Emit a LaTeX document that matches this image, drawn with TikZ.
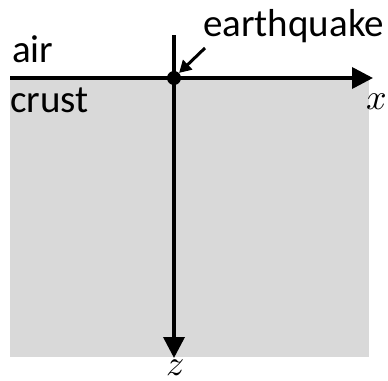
\documentclass[tikz,border=0pt]{standalone}
\usepackage{fontspec}
\usepackage{unicode-math}
\setmainfont{Carlito}
\setmathfont{Latin Modern Math}
\usetikzlibrary{arrows.meta}

\begin{document}
\begin{tikzpicture}[x=1pt, y=-1pt, >={Triangle[length=21pt,width=21pt]},
axis/.style={line width=3.6pt},
word/.style={font=\fontsize{39}{44}\selectfont, inner sep=0pt, anchor=base west},
sym/.style={font=\fontsize{36}{40}\selectfont, inner sep=0pt}]

\useasboundingbox (0,0) rectangle (388,380);
\fill[gray!30] (10,78) rectangle (369,357);

% axes
\coordinate (west) at (10,78);
\coordinate (east) at (373,78);
\coordinate (top) at (174,35);
\coordinate (bottom) at (174,358);
\draw[axis, ->] (west) -- (east);
\draw[axis, ->] (top) -- (bottom);
\node[circle, fill, inner sep=0pt, minimum size=14pt] (quake) at (174,78) {};

% labels
\node[word] (air) at (12,62) {air};
\node[word] (crust) at (10,112) {crust};
\node[word] (eq) at (203,36) {earthquake};
\node[sym] (xlab) at (377,102) {$x$};
\node[sym, anchor=north] (zlab) at (175,359) {$z$};
\coordinate (eqtail) at (205,48);
\draw[line width=3pt, -{Triangle[length=12pt,width=13pt]}] (eqtail) -- (quake.north east);
\end{tikzpicture}
\end{document}
